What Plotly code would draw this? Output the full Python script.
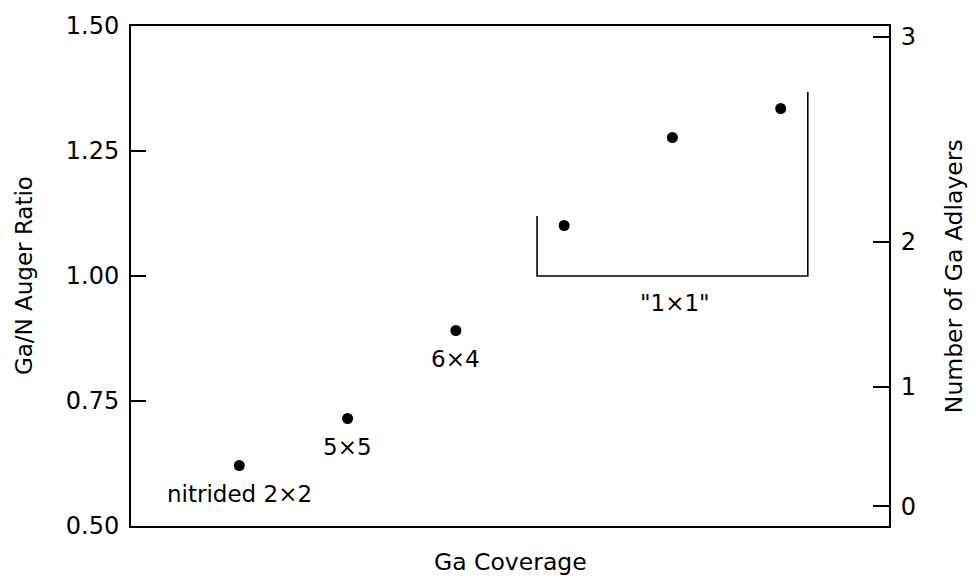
import plotly.graph_objects as go

# Data
coverage = [1, 2, 3, 4, 5, 6]
auger_ratio = [0.621, 0.715, 0.891, 1.101, 1.277, 1.335]
point_labels = ["nitrided 2×2", "5×5", "6×4"]

# bracket marking the "1x1" region
bracket_x = [3.75, 3.75, 6.25, 6.25]
bracket_y = [1.12, 1.00, 1.00, 1.368]
bracket_label = '"1×1"'

# right axis: number of Ga adlayers, placed at these Auger-ratio values
adlayer_tick_pos = [0.5395, 0.7787, 1.069, 1.478]
adlayer_tick_text = ["0", "1", "2", "3"]

left_ticks = [0.50, 0.75, 1.00, 1.25, 1.50]
left_tick_text = ["0.50", "0.75", "1.00", "1.25", "1.50"]

FONT = "DejaVu Sans"

fig = go.Figure()
fig.add_trace(go.Scatter(
    x=coverage, y=auger_ratio, mode="markers",
    marker=dict(color="black", size=11), showlegend=False, hoverinfo="skip"))
fig.add_trace(go.Scatter(
    x=bracket_x, y=bracket_y, mode="lines", yaxis="y2",
    line=dict(color="black", width=1.6), showlegend=False, hoverinfo="skip"))

annotations = []
for xv, yv, txt in zip(coverage, auger_ratio, point_labels):
    annotations.append(dict(x=xv, y=yv, text=txt, showarrow=False, xref="x", yref="y",
                            yanchor="middle", yshift=-28,
                            font=dict(family=FONT, size=23, color="black")))
annotations.append(dict(x=(bracket_x[1] + bracket_x[2]) / 2 + 0.02, y=bracket_y[1], text=bracket_label,
                        showarrow=False, xref="x", yref="y", yanchor="middle", yshift=-27,
                        font=dict(family=FONT, size=23, color="black")))
# axis titles
annotations.append(dict(x=0.5, y=-0.071, xref="paper", yref="paper", text="Ga Coverage",
                        showarrow=False, yanchor="middle",
                        font=dict(family=FONT, size=23.5, color="black")))
annotations.append(dict(x=-0.141, y=0.5, xref="paper", yref="paper", text="Ga/N Auger Ratio",
                        showarrow=False, textangle=-90, xanchor="center",
                        font=dict(family=FONT, size=23, color="black")))
annotations.append(dict(x=1.086, y=0.5, xref="paper", yref="paper", text="Number of Ga Adlayers",
                        showarrow=False, textangle=-90, xanchor="center",
                        font=dict(family=FONT, size=23.5, color="black")))

fig.update_layout(
    width=976, height=579, autosize=False,
    margin=dict(l=131, r=87, t=20, b=53),
    paper_bgcolor="white", plot_bgcolor="white",
    font=dict(family=FONT, color="black"),
    xaxis=dict(range=[0, 7], showgrid=False, zeroline=False, showticklabels=False,
               ticks="", showline=True, linecolor="black", linewidth=2, mirror=True),
    yaxis=dict(range=[0.5, 1.5], showgrid=False, zeroline=False,
               tickvals=left_ticks, ticktext=left_tick_text,
               ticks="inside", ticklen=15, tickwidth=1.5, tickcolor="black",
               ticklabelstandoff=5,
               showline=True, linecolor="black", linewidth=2,
               tickfont=dict(family=FONT, size=24, color="black")),
    yaxis2=dict(range=[0.5, 1.5], overlaying="y", side="right", showgrid=False, zeroline=False,
                tickvals=adlayer_tick_pos, ticktext=adlayer_tick_text,
                ticks="inside", ticklen=16, tickwidth=1.5, tickcolor="black",
                ticklabelstandoff=5,
                showline=True, linecolor="black", linewidth=2,
                tickfont=dict(family=FONT, size=24, color="black")),
    annotations=annotations,
)

post = ("document.body.style.margin='0px';document.body.style.padding='0px';"
        "document.body.style.overflow='hidden';"
        "var d=document.getElementById('{plot_id}');"
        "d.style.position='absolute';d.style.left='0px';d.style.top='0px';")
fig.write_html("out.html", post_script=post, config={"displayModeBar": False})
